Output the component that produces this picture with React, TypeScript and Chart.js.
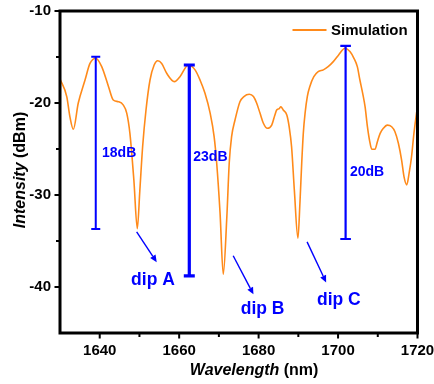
import React, { useEffect, useRef } from 'react';
import { Chart, registerables } from 'chart.js';

Chart.register(...registerables);

const seriesLabel = 'Simulation';

const wavelength = [
  1630.0, 1631.7, 1632.5, 1633.35, 1634.6, 1636.3, 1637.55, 1639.0, 1640.5, 1642.2,
  1643.4, 1644.7, 1645.9, 1646.8, 1647.6, 1648.6, 1649.46, 1650.1, 1650.8, 1651.65,
  1652.66, 1653.7, 1654.6, 1655.6, 1656.9, 1658.8, 1660.2, 1662.3, 1664.0, 1665.25,
  1666.5, 1667.8, 1668.8, 1669.45, 1670.3, 1671.1, 1672.0, 1672.6, 1673.2, 1674.06,
  1675.3, 1676.3, 1677.66, 1678.7, 1679.5, 1680.35, 1681.2, 1682.2, 1683.3, 1684.1,
  1684.55, 1685.2, 1685.6, 1686.2, 1687.1, 1687.7, 1688.3, 1689.0, 1689.9, 1690.4,
  1690.85, 1691.25, 1691.7, 1692.26, 1692.9, 1693.9, 1695.0, 1696.3, 1697.5, 1698.8,
  1700.1, 1701.75, 1703.0, 1704.0, 1704.85, 1705.5, 1706.2, 1706.8, 1707.4, 1707.9,
  1708.5, 1709.3, 1709.9, 1710.6, 1711.4, 1712.4, 1713.5, 1714.3, 1715.2, 1716.0,
  1716.6, 1717.3, 1717.9, 1718.5, 1719.1, 1719.8,
];

const intensity = [
  -17.39, -19.3, -21.5, -22.86, -20.0, -17.5, -15.7, -15.14, -16.05, -18.2,
  -19.67, -19.86, -20.2, -21.1, -23.3, -28.4, -33.66, -29.5, -24.75, -20.76,
  -17.5, -15.87, -15.4, -15.7, -16.8, -17.68, -17.14, -15.87, -16.4, -17.5,
  -18.95, -21.1, -23.66, -26.55, -32.0, -38.6, -32.4, -26.55, -23.66, -21.85,
  -19.86, -19.3, -19.05, -19.3, -20.0, -21.1, -22.2, -22.75, -22.4, -21.3,
  -20.76, -20.6, -20.4, -20.76, -21.3, -22.6, -24.75, -29.5, -34.7, -30.9,
  -26.55, -23.3, -21.1, -19.3, -18.2, -17.14, -16.6, -16.4, -16.05, -15.5,
  -14.8, -14.05, -14.4, -15.14, -16.05, -17.5, -18.95, -20.4, -22.6, -24.0,
  -25.03, -25.03, -24.2, -23.3, -22.75, -22.4, -22.58, -23.1, -24.4, -26.2,
  -28.0, -28.9, -27.6, -25.84, -23.3, -20.95,
];

const xMin = 1630;
const xMax = 1720;
const yMin = -45;
const yMax = -10;
const xTicks = [1640, 1660, 1680, 1700, 1720];
const xMinorTicks = [1650, 1670, 1690, 1710];
const yTicks = [-10, -20, -30, -40];
const yMinorTicks = [-15, -25, -35];

// extinction-ratio bars (wavelength, top, bottom, label)
const barWavelength = [1639.0, 1662.55, 1701.9];
const barTop = [-14.97, -15.87, -13.8];
const barBottom = [-33.7, -38.8, -34.78];
const barLabels = ['18dB', '23dB', '20dB'];

// dip arrows (start -> end) and labels
const dipLabels = ['dip A', 'dip B', 'dip C'];
const arrowFromX = [1649.3, 1673.6, 1692.2];
const arrowFromY = [-34.0, -36.6, -35.1];
const arrowToX = [1654.35, 1678.7, 1697.0];
const arrowToY = [-37.3, -40.8, -39.5];
const dipLabelX = [1653.4, 1681.0, 1700.2];
const dipLabelY = [-39.3, -42.4, -41.4];

const FONT = '"Liberation Sans", Arial, Helvetica, sans-serif';
const BLUE = '#0000ff';
const ORANGE = '#ff8a1a';

const overlayPlugin = {
  id: 'overlay',
  afterDraw(chart: any) {
    const ctx: CanvasRenderingContext2D = chart.ctx;
    const xs = chart.scales.x;
    const ys = chart.scales.y;
    const { left, right, top, bottom } = chart.chartArea;
    ctx.save();

    // bars
    const barWidths = [2, 3.2, 2.2];
    const capHalf = [4.5, 5.5, 5.3];
    ctx.strokeStyle = BLUE;
    for (let i = 0; i < barWavelength.length; i++) {
      const px = xs.getPixelForValue(barWavelength[i]);
      const pt = ys.getPixelForValue(barTop[i]);
      const pb = ys.getPixelForValue(barBottom[i]);
      ctx.lineWidth = barWidths[i];
      ctx.beginPath();
      ctx.moveTo(px, pt);
      ctx.lineTo(px, pb);
      ctx.moveTo(px - capHalf[i], pt);
      ctx.lineTo(px + capHalf[i], pt);
      ctx.moveTo(px - capHalf[i], pb);
      ctx.lineTo(px + capHalf[i], pb);
      ctx.stroke();
    }
    // bar labels
    const barLabelDx = [6.3, 4, 4.3];
    const barLabelMidY = [-25.4, -25.9, -27.5];
    ctx.fillStyle = BLUE;
    ctx.font = `bold 14px ${FONT}`;
    ctx.textAlign = 'left';
    ctx.textBaseline = 'middle';
    for (let i = 0; i < barLabels.length; i++) {
      const px = xs.getPixelForValue(barWavelength[i]) + barLabelDx[i];
      const py = ys.getPixelForValue(barLabelMidY[i]);
      ctx.fillText(barLabels[i], px, py);
    }

    // arrows
    ctx.lineWidth = 1.4;
    for (let i = 0; i < dipLabels.length; i++) {
      const x0 = xs.getPixelForValue(arrowFromX[i]);
      const y0 = ys.getPixelForValue(arrowFromY[i]);
      const x1 = xs.getPixelForValue(arrowToX[i]);
      const y1 = ys.getPixelForValue(arrowToY[i]);
      const ang = Math.atan2(y1 - y0, x1 - x0);
      const hl = 7;
      const hw = 3.2;
      const bx = x1 - hl * Math.cos(ang);
      const by = y1 - hl * Math.sin(ang);
      ctx.beginPath();
      ctx.moveTo(x0, y0);
      ctx.lineTo(bx, by);
      ctx.stroke();
      ctx.beginPath();
      ctx.moveTo(x1, y1);
      ctx.lineTo(bx + hw * Math.sin(ang), by - hw * Math.cos(ang));
      ctx.lineTo(bx - hw * Math.sin(ang), by + hw * Math.cos(ang));
      ctx.closePath();
      ctx.fill();
    }
    ctx.font = `bold 17.5px ${FONT}`;
    ctx.textAlign = 'center';
    ctx.textBaseline = 'middle';
    for (let i = 0; i < dipLabels.length; i++) {
      ctx.fillText(dipLabels[i], xs.getPixelForValue(dipLabelX[i]), ys.getPixelForValue(dipLabelY[i]));
    }

    // frame
    ctx.strokeStyle = '#000';
    ctx.lineWidth = 3;
    ctx.strokeRect(left, top, right - left, bottom - top);

    // ticks
    ctx.lineWidth = 2;
    ctx.beginPath();
    for (const v of xTicks) {
      const px = xs.getPixelForValue(v);
      ctx.moveTo(px, bottom);
      ctx.lineTo(px, bottom + 5.5);
    }
    for (const v of xMinorTicks) {
      const px = xs.getPixelForValue(v);
      ctx.moveTo(px, bottom);
      ctx.lineTo(px, bottom + 4);
    }
    for (const v of yTicks) {
      const py = ys.getPixelForValue(v);
      ctx.moveTo(left, py);
      ctx.lineTo(left - 5.5, py);
    }
    for (const v of yMinorTicks) {
      const py = ys.getPixelForValue(v);
      ctx.moveTo(left, py);
      ctx.lineTo(left - 4, py);
    }
    ctx.stroke();

    // tick labels
    ctx.fillStyle = '#000';
    ctx.font = `bold 15px ${FONT}`;
    ctx.textAlign = 'center';
    ctx.textBaseline = 'middle';
    for (const v of xTicks) {
      ctx.fillText(String(v), xs.getPixelForValue(v), bottom + 18);
    }
    ctx.textAlign = 'right';
    for (const v of yTicks) {
      ctx.fillText(String(v), left - 9, ys.getPixelForValue(v));
    }

    // x title (mixed italic)
    const t1 = 'Wavelength';
    const t2 = ' (nm)';
    ctx.textBaseline = 'alphabetic';
    ctx.textAlign = 'left';
    ctx.font = `italic bold 16px ${FONT}`;
    const w1 = ctx.measureText(t1).width;
    ctx.font = `bold 16px ${FONT}`;
    const w2 = ctx.measureText(t2).width;
    const cx = left + (right - left) * 0.543;
    const sx = cx - (w1 + w2) / 2;
    ctx.font = `italic bold 16px ${FONT}`;
    ctx.fillText(t1, sx, 375);
    ctx.font = `bold 16px ${FONT}`;
    ctx.fillText(t2, sx + w1, 375);

    // y title (mixed italic, rotated)
    const u1 = 'Intensity';
    const u2 = ' (dBm)';
    ctx.font = `italic bold 16px ${FONT}`;
    const v1 = ctx.measureText(u1).width;
    ctx.font = `bold 16px ${FONT}`;
    const v2 = ctx.measureText(u2).width;
    ctx.translate(24.5, (top + bottom) / 2 - 2);
    ctx.rotate(-Math.PI / 2);
    const sy = -(v1 + v2) / 2;
    ctx.font = `italic bold 16px ${FONT}`;
    ctx.fillText(u1, sy, 0);
    ctx.font = `bold 16px ${FONT}`;
    ctx.fillText(u2, sy + v1, 0);
    ctx.setTransform(1, 0, 0, 1, 0, 0);

    // legend
    ctx.strokeStyle = ORANGE;
    ctx.lineWidth = 1.8;
    ctx.beginPath();
    ctx.moveTo(right - 125, top + 19);
    ctx.lineTo(right - 91, top + 19);
    ctx.stroke();
    ctx.fillStyle = '#000';
    ctx.font = `bold 15px ${FONT}`;
    ctx.textAlign = 'left';
    ctx.textBaseline = 'middle';
    ctx.fillText(chart.data.datasets[0].label, right - 86.5, top + 19.5);

    ctx.restore();
  },
};

export default function App() {
  const ref = useRef<HTMLCanvasElement | null>(null);
  useEffect(() => {
    if (!ref.current) return;
    const chart = new Chart(ref.current, {
      type: 'line',
      data: {
        datasets: [
          {
            label: seriesLabel,
            data: wavelength.map((x, i) => ({ x, y: intensity[i] })),
            borderColor: ORANGE,
            borderWidth: 1.6,
            pointRadius: 0,
            fill: false,
            tension: 0.4,
            cubicInterpolationMode: 'monotone',
          },
        ],
      },
      options: {
        responsive: false,
        animation: false,
        devicePixelRatio: 1,
        layout: { padding: { left: 60, top: 11, right: 16.5, bottom: 51 } },
        plugins: { legend: { display: false }, tooltip: { enabled: false } },
        scales: {
          x: { type: 'linear', min: xMin, max: xMax, display: false },
          y: { type: 'linear', min: yMin, max: yMax, display: false },
        },
      },
      plugins: [overlayPlugin],
    });
    return () => chart.destroy();
  }, []);
  return (
    <div style={{ position: 'fixed', left: 0, top: 0, width: 434, height: 384, background: '#fff' }}>
      <canvas ref={ref} width={434} height={384} style={{ display: 'block' }} />
    </div>
  );
}
